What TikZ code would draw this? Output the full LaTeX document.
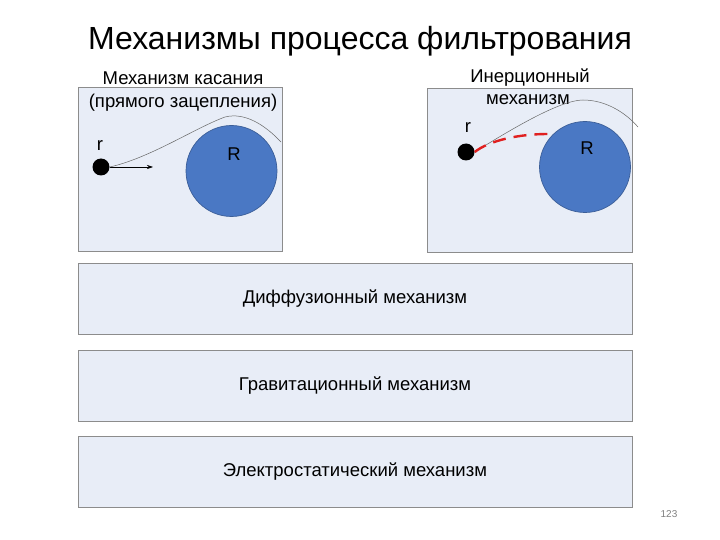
\documentclass[tikz,border=0pt]{standalone}
\usepackage{fontspec}
\setmainfont{Liberation Sans}
\usetikzlibrary{arrows.meta}
\definecolor{boxfill}{HTML}{E8EDF7}
\definecolor{boxline}{HTML}{8C8C8C}
\definecolor{ballfill}{HTML}{4A78C4}
\definecolor{ballline}{HTML}{3B5E98}
\definecolor{pathred}{HTML}{E02020}
\tikzset{
  panel/.style={draw=boxline, fill=boxfill, line width=0.9pt, inner sep=0pt},
  wide/.style={panel, minimum width=554pt, minimum height=71pt},
  lbl/.style={font=\fontsize{18.5}{21}\selectfont, text=black, inner sep=0pt},
  bigball/.style={circle, draw=ballline, fill=ballfill, minimum size=91pt, inner sep=0pt, line width=0.7pt},
  dot/.style={circle, fill=black, minimum size=17pt, inner sep=0pt},
  traj/.style={draw=gray!80!black, line width=0.5pt},
}
\begin{document}
\begin{tikzpicture}[x=1pt,y=-1pt]
\useasboundingbox (0,0) rectangle (720,540);
\node[font=\fontsize{32}{36}\selectfont, anchor=base] (title) at (360,50) {Механизмы процесса фильтрования};

% top panels
\node[panel, minimum width=204pt, minimum height=164pt, anchor=north west] (p1) at (77.5,87) {};
\node[panel, minimum width=205pt, minimum height=164pt, anchor=north west] (p2) at (427,88) {};

% wide panels
\node[wide, anchor=north west] (d) at (77.5,263) {};
\node[lbl] at (d.center) {Диффузионный механизм};
\node[wide, anchor=north west] (g) at (77.5,349.5) {};
\node[lbl] at (g.center) {Гравитационный механизм};
\node[wide, anchor=north west] (e) at (77.5,436) {};
\node[lbl] at (e.center) {Электростатический механизм};

% panel 1 content
\node[lbl, anchor=base] (t1a) at (183,85) {Механизм касания};
\node[lbl, anchor=base] (t1b) at (183,108) {(прямого зацепления)};
\node[bigball] (R1) at (231.5,171) {};
\node[lbl] (R1l) at (234,154) {R};
\node[dot] (r1) at (101,167) {};
\node[lbl] (r1l) at (100,146) {r};
\coordinate (a1) at (153,167);
\draw[-{Stealth[length=6pt,width=4pt]}, line width=0.6pt] (r1.east) -- (a1);
\coordinate (c1e) at (281,142);
\draw[traj] (r1.east) .. controls (150,158) and (195,128) .. (225,117)
  .. controls (245,112) and (265,125) .. (c1e);

% panel 2 content
\node[lbl, anchor=base] (t2a) at (530,83) {Инерционный};
\node[lbl, anchor=base] (t2b) at (528,105) {механизм};
\node[bigball] (R2) at (585,167) {};
\node[lbl] (R2l) at (587,148) {R};
\node[dot] (r2) at (466,152) {};
\node[lbl] (r2l) at (468,128) {r};
\coordinate (c2e) at (638,127);
\draw[traj] (r2.east) .. controls (510,130) and (560,100) .. (583,100)
  .. controls (605,100) and (625,112) .. (c2e);
\coordinate (rd) at (548,134);
\draw[pathred, line width=2.4pt, dash pattern=on 13pt off 8pt] (r2.east) .. controls (490,140) and (520,134) .. (rd);

\node[font=\fontsize{10}{12}\selectfont, text=gray] (pg) at (669,514) {123};
\end{tikzpicture}
\end{document}
